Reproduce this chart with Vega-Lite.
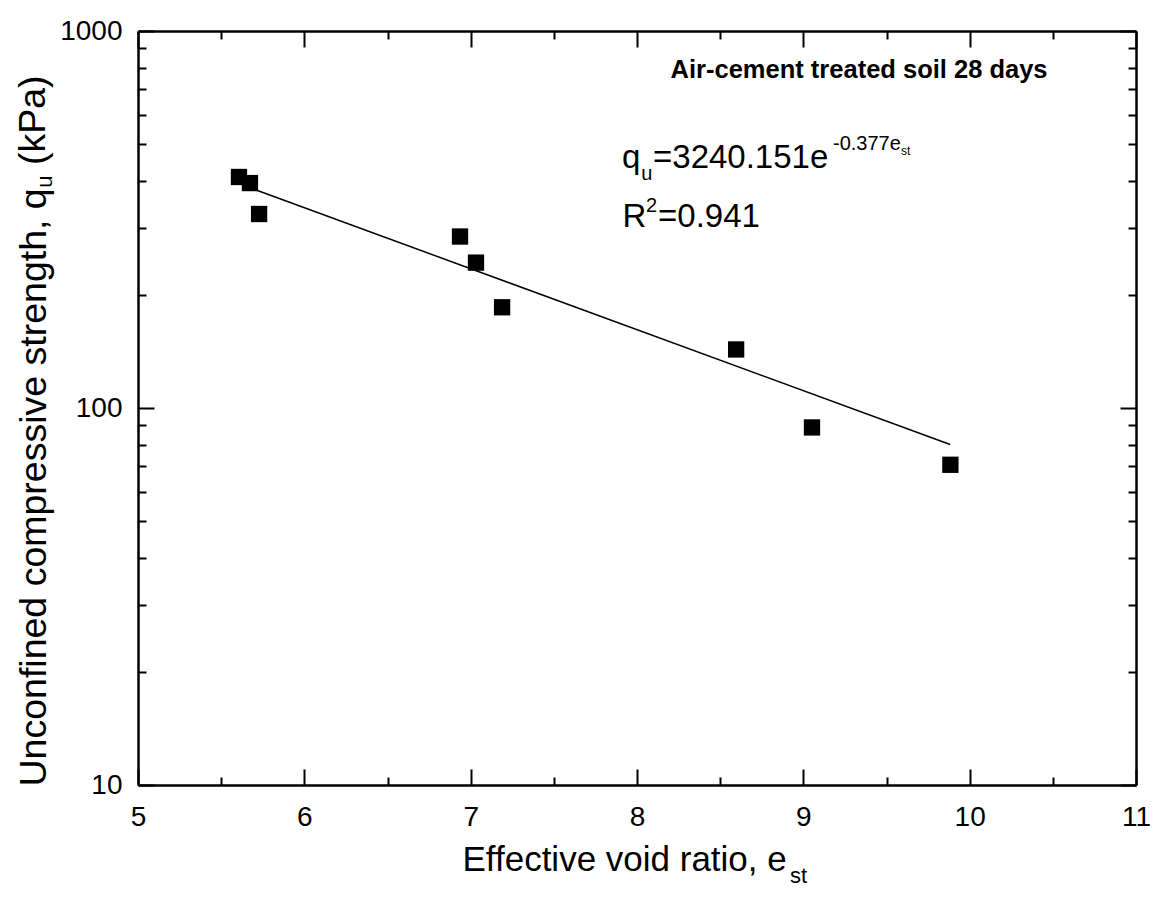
{
  "$schema": "https://vega.github.io/schema/vega-lite/v6.json",
  "width": 998,
  "height": 754,
  "autosize": "none",
  "padding": {"left": 138, "top": 31, "right": 18, "bottom": 118},
  "background": "white",
  "config": {
    "view": {"stroke": null},
    "font": "Liberation Sans",
    "axis": {
      "domainColor": "black",
      "tickColor": "black",
      "labelColor": "black",
      "titleColor": "black",
      "grid": false,
      "labelFont": "Liberation Sans",
      "titleFont": "Liberation Sans",
      "titleFontWeight": "normal"
    }
  },
  "datasets": {
    "points": [
      {"e": 5.607, "q": 410},
      {"e": 5.673, "q": 395},
      {"e": 5.728, "q": 327},
      {"e": 6.936, "q": 285},
      {"e": 7.032, "q": 243},
      {"e": 7.189, "q": 185},
      {"e": 8.596, "q": 143},
      {"e": 9.052, "q": 88.8},
      {"e": 9.884, "q": 70.7}
    ],
    "fit": [
      {"e": 5.714, "q": 378},
      {"e": 9.883, "q": 80}
    ]
  },
  "layer": [
    {
      "data": {"name": "fit"},
      "mark": {"type": "line", "color": "black", "strokeWidth": 1.5},
      "encoding": {
        "x": {
          "field": "e", "type": "quantitative",
          "scale": {"domain": [5, 11], "nice": false, "zero": false},
          "axis": {
            "orient": "bottom", "values": [5, 6, 7, 8, 9, 10, 11],
            "tickSize": -16, "tickWidth": 2, "domainWidth": 2.5,
            "labelFontSize": 28, "labelPadding": 34, "labelFlush": false, "labelOverlap": false,
            "title": "Effective void ratio, e", "titleFontSize": 35,
            "titleX": 324, "titleY": 85, "titleAlign": "left", "titleBaseline": "alphabetic", "titleAngle": 0
          }
        },
        "y": {
          "field": "q", "type": "quantitative",
          "scale": {"type": "log", "domain": [10, 1000], "nice": false},
          "axis": {
            "orient": "left", "values": [10, 100, 1000], "format": "d",
            "tickSize": -16, "tickWidth": 2, "domainWidth": 2.5,
            "labelFontSize": 28, "labelPadding": 32, "labelFlush": false, "labelOverlap": false,
            "title": "Unconfined compressive strength, q", "titleFontSize": 37.5,
            "titleX": -93, "titleY": 755, "titleAlign": "left", "titleBaseline": "alphabetic", "titleAngle": 270
          }
        }
      }
    },
    {
      "data": {"name": "points"},
      "mark": {"type": "point", "shape": "square", "filled": true, "size": 266, "color": "black", "opacity": 1},
      "encoding": {
        "x": {
          "field": "e", "type": "quantitative",
          "axis": {
            "orient": "bottom", "values": [5.5, 6.5, 7.5, 8.5, 9.5, 10.5],
            "tickSize": -8, "tickWidth": 2, "labels": false, "domain": false, "title": null
          }
        },
        "y": {
          "field": "q", "type": "quantitative",
          "axis": {
            "orient": "left", "values": [20, 30, 40, 50, 60, 70, 80, 90, 200, 300, 400, 500, 600, 700, 800, 900],
            "tickSize": -8, "tickWidth": 2, "labels": false, "domain": false, "title": null
          }
        }
      }
    },
    {
      "data": {"values": [{"e": 9.335, "q": 750.5, "label": "Air-cement treated soil 28 days"}]},
      "mark": {"type": "text", "font": "Liberation Sans", "fontSize": 25.5, "fontWeight": "bold", "align": "center", "baseline": "alphabetic", "color": "black"},
      "encoding": {
        "x": {
          "field": "e", "type": "quantitative",
          "axis": {
            "orient": "top", "values": [5, 6, 7, 8, 9, 10, 11],
            "tickSize": -16, "tickWidth": 2, "domainWidth": 2.5, "labels": false, "title": null
          }
        },
        "y": {
          "field": "q", "type": "quantitative",
          "axis": {
            "orient": "right", "values": [10, 100, 1000],
            "tickSize": -16, "tickWidth": 2, "domainWidth": 2.5, "labels": false, "title": null
          }
        },
        "text": {"field": "label"}
      }
    },
    {
      "data": {"values": [
        {"e": 7.9099, "q": 433.1, "label": "q"},
        {"e": 8.0962, "q": 433.1, "label": "=3240.151e"},
        {"e": 7.9128, "q": 302.0, "label": "R"},
        {"e": 8.1263, "q": 302.0, "label": "=0.941"}
      ]},
      "mark": {"type": "text", "font": "Liberation Sans", "fontSize": 33, "align": "left", "baseline": "alphabetic", "color": "black"},
      "encoding": {
        "x": {
          "field": "e", "type": "quantitative",
          "axis": {
            "orient": "top", "values": [5.5, 6.5, 7.5, 8.5, 9.5, 10.5],
            "tickSize": -8, "tickWidth": 2, "labels": false, "domain": false, "title": null
          }
        },
        "y": {
          "field": "q", "type": "quantitative",
          "axis": {
            "orient": "right", "values": [20, 30, 40, 50, 60, 70, 80, 90, 200, 300, 400, 500, 600, 700, 800, 900],
            "tickSize": -8, "tickWidth": 2, "labels": false, "domain": false, "title": null
          }
        },
        "text": {"field": "label"}
      }
    },
    {
      "data": {"values": [
        {"e": 8.0259, "q": 402.5, "label": "u"},
        {"e": 9.1784, "q": 483.5, "label": "-0.377e"},
        {"e": 8.0541, "q": 331.1, "label": "2"}
      ]},
      "mark": {"type": "text", "font": "Liberation Sans", "fontSize": 20, "align": "left", "baseline": "alphabetic", "color": "black"},
      "encoding": {
        "x": {"field": "e", "type": "quantitative", "axis": null},
        "y": {"field": "q", "type": "quantitative", "axis": null},
        "text": {"field": "label"}
      }
    },
    {
      "data": {"values": [
        {"e": 9.5873, "q": 469.0, "label": "st"}
      ]},
      "mark": {"type": "text", "font": "Liberation Sans", "fontSize": 12, "align": "left", "baseline": "alphabetic", "color": "black"},
      "encoding": {
        "x": {"field": "e", "type": "quantitative", "axis": null},
        "y": {"field": "q", "type": "quantitative", "axis": null},
        "text": {"field": "label"}
      }
    },
    {
      "data": {"values": [
        {"e": 8.920, "q": 5.50, "label": "st"}
      ]},
      "mark": {"type": "text", "font": "Liberation Sans", "fontSize": 22, "align": "left", "baseline": "alphabetic", "color": "black"},
      "encoding": {
        "x": {"field": "e", "type": "quantitative", "axis": null},
        "y": {"field": "q", "type": "quantitative", "axis": null},
        "text": {"field": "label"}
      }
    },
    {
      "data": {"values": [
        {"e": 4.483, "q": 383.8, "label": "u"}
      ]},
      "mark": {"type": "text", "font": "Liberation Sans", "fontSize": 22, "angle": 270, "align": "left", "baseline": "alphabetic", "color": "black"},
      "encoding": {
        "x": {"field": "e", "type": "quantitative", "axis": null},
        "y": {"field": "q", "type": "quantitative", "axis": null},
        "text": {"field": "label"}
      }
    },
    {
      "data": {"values": [
        {"e": 4.4409, "q": 441.1, "label": "(kPa)"}
      ]},
      "mark": {"type": "text", "font": "Liberation Sans", "fontSize": 37.5, "angle": 270, "align": "left", "baseline": "alphabetic", "color": "black"},
      "encoding": {
        "x": {"field": "e", "type": "quantitative", "axis": null},
        "y": {"field": "q", "type": "quantitative", "axis": null},
        "text": {"field": "label"}
      }
    }
  ],
  "resolve": {"axis": {"x": "independent", "y": "independent"}}
}
